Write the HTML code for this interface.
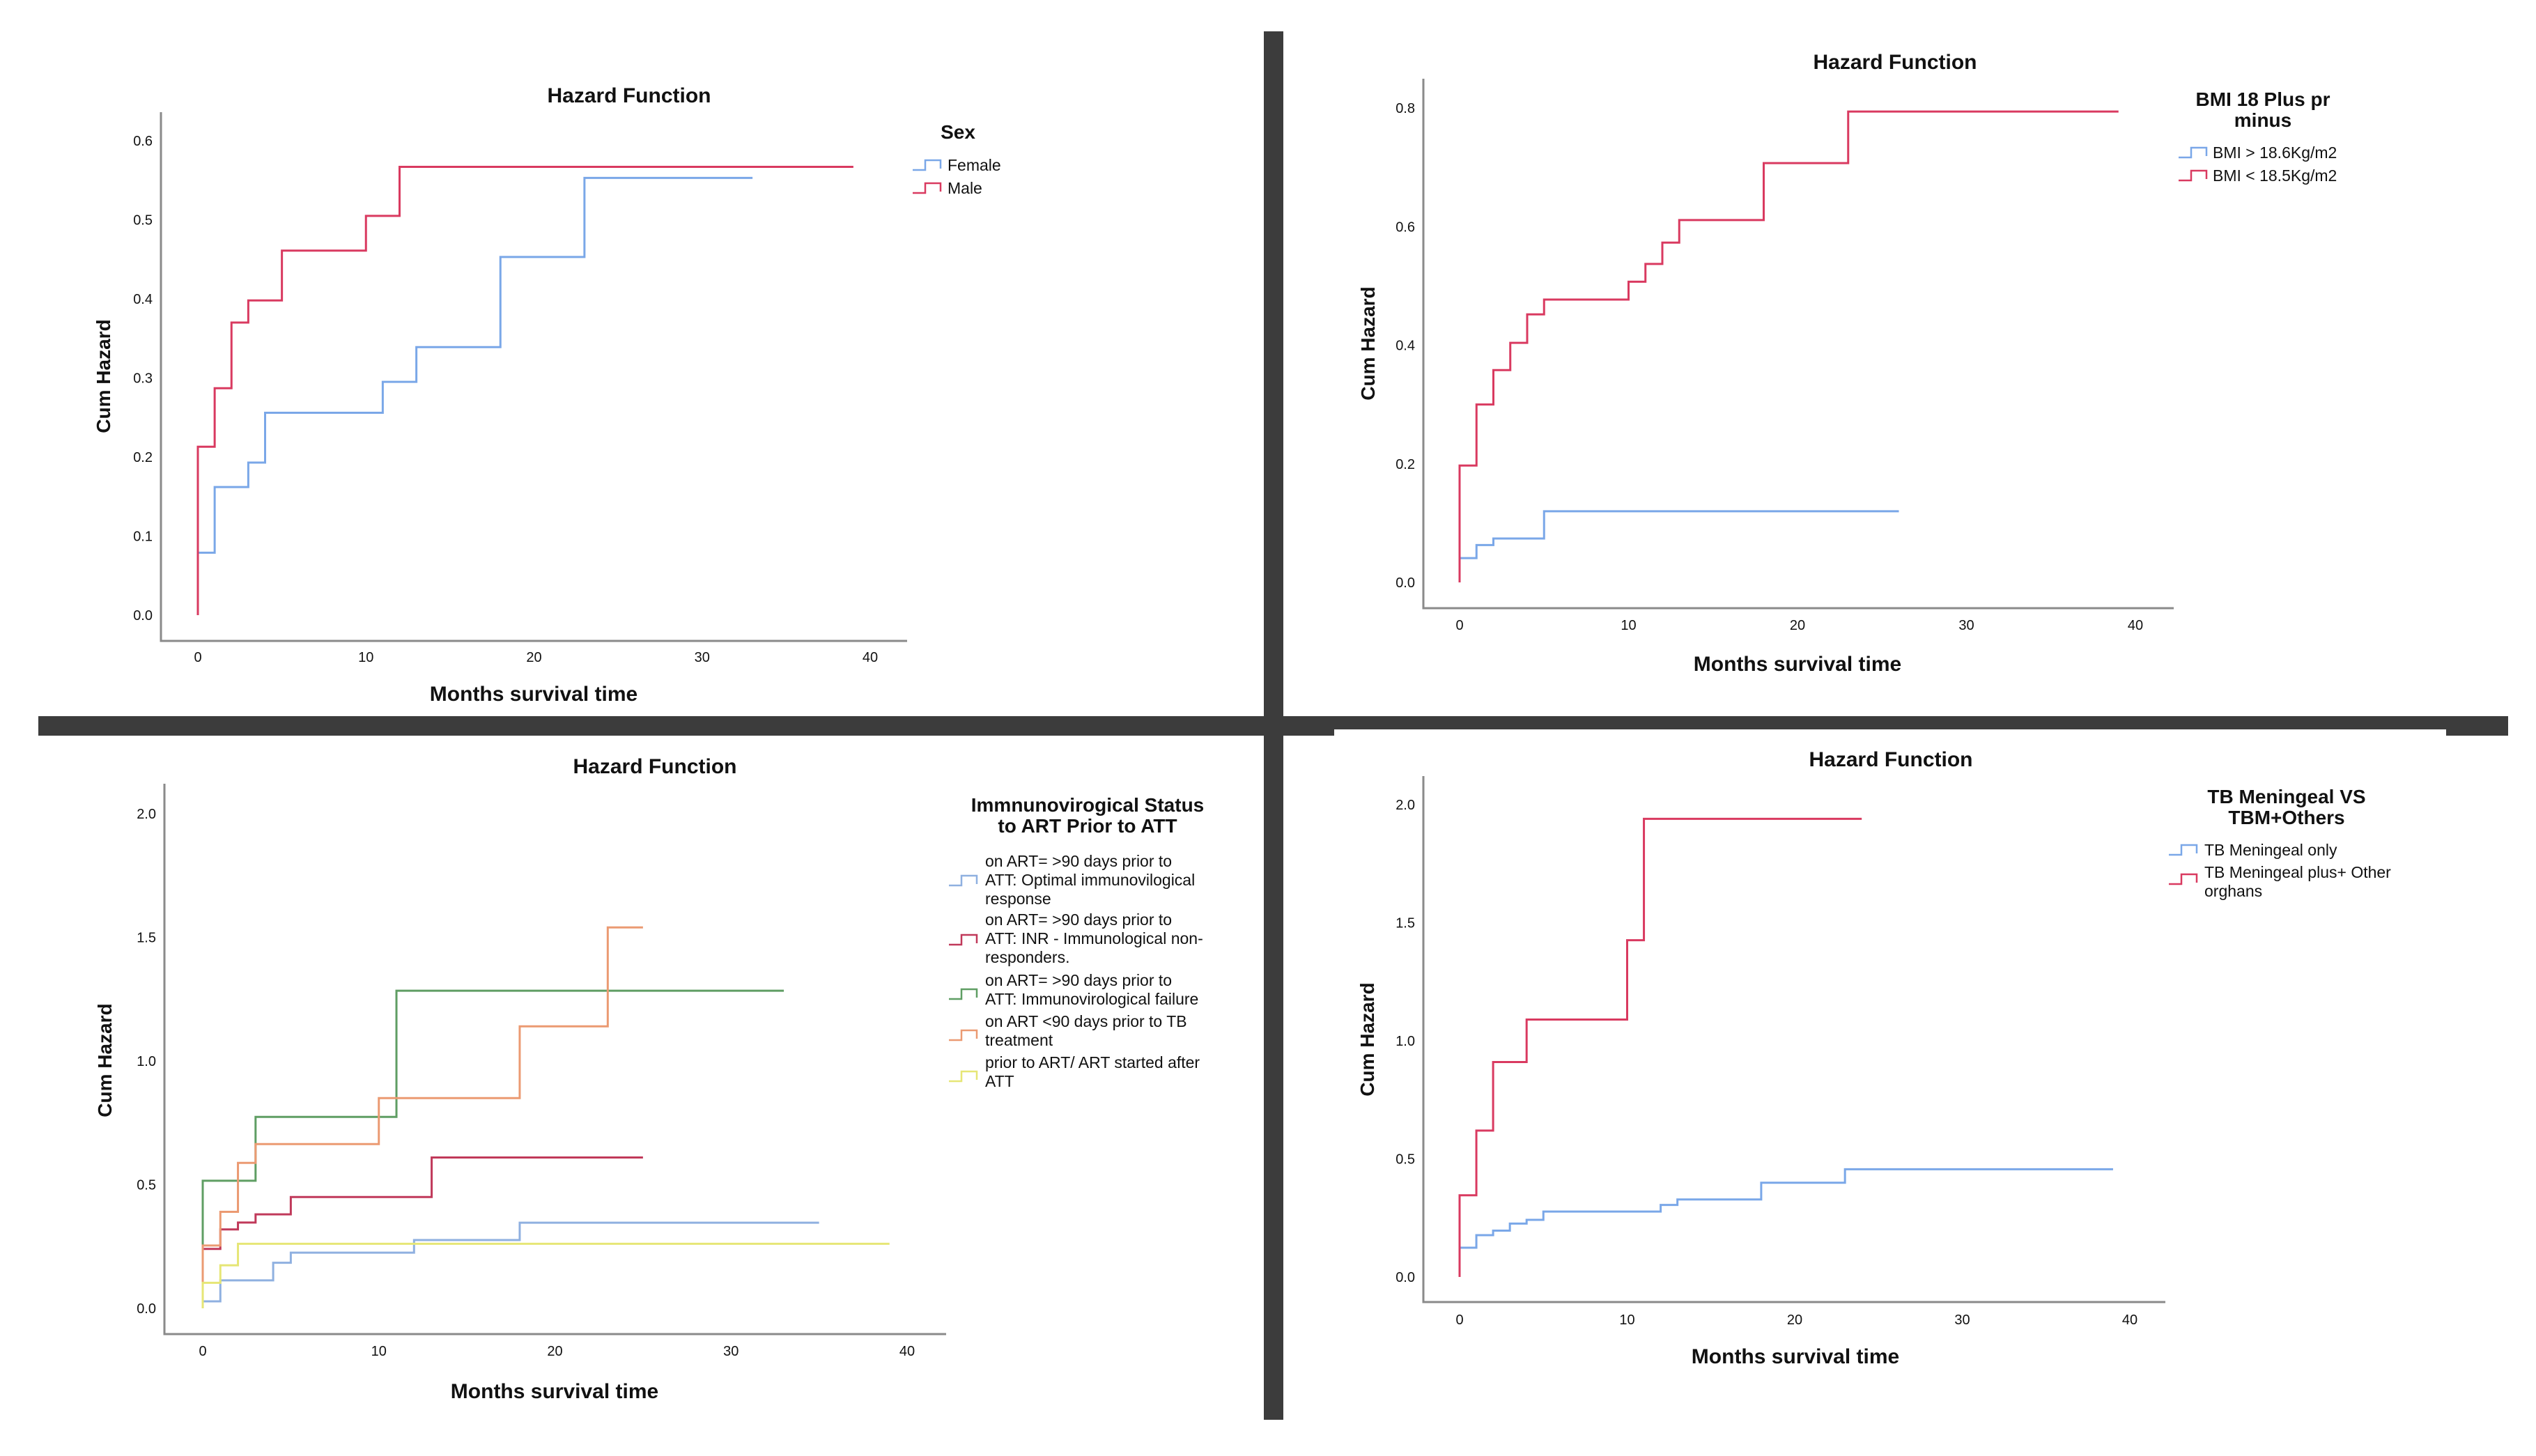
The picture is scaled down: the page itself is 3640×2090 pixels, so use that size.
<!DOCTYPE html>
<html><head><meta charset="utf-8"><style>
html,body{margin:0;padding:0;background:#fff;}
svg{display:block;}
text{font-family:"Liberation Sans Narrow","Liberation Sans",sans-serif;fill:#111;}
</style></head><body>
<svg id="root" width="3640" height="2090" viewBox="0 0 3640 2090" xmlns="http://www.w3.org/2000/svg">
<rect x="0" y="0" width="3640" height="2090" fill="#fff"/>
<rect x="1814" y="45" width="28" height="1993" fill="#3c3c3c"/>
<rect x="55" y="1028" width="1787" height="28" fill="#3c3c3c"/>
<rect x="1840" y="1028" width="1760" height="19" fill="#3c3c3c"/>
<rect x="1840" y="1047" width="75" height="9" fill="#3c3c3c"/>
<rect x="3511" y="1047" width="89" height="9" fill="#3c3c3c"/>
<g id="charts"></g>
</svg>
<script>
// Chart 1: Sex
const c1Ticks = [0, 0.1, 0.2, 0.3, 0.4, 0.5, 0.6];
const c1XTicks = [0, 10, 20, 30, 40];
const c1FemaleT = [0, 1, 3, 4, 11, 13, 18, 23, 33];
const c1FemaleV = [0.079, 0.162, 0.193, 0.256, 0.295, 0.339, 0.453, 0.553, 0.553];
const c1MaleT = [0, 1, 2, 3, 5, 10, 12, 39];
const c1MaleV = [0.213, 0.287, 0.370, 0.398, 0.461, 0.505, 0.567, 0.567];
// Chart 2: BMI
const c2Ticks = [0, 0.2, 0.4, 0.6, 0.8];
const c2XTicks = [0, 10, 20, 30, 40];
const c2HighT = [0, 1, 2, 5, 26];
const c2HighV = [0.041, 0.063, 0.074, 0.120, 0.120];
const c2LowT = [0, 1, 2, 3, 4, 5, 10, 11, 12, 13, 18, 23, 39];
const c2LowV = [0.197, 0.300, 0.358, 0.404, 0.452, 0.477, 0.507, 0.537, 0.573, 0.611, 0.707, 0.794, 0.794];
// Chart 3: Immunovirological status
const c3Ticks = [0, 0.5, 1.0, 1.5, 2.0];
const c3XTicks = [0, 10, 20, 30, 40];
const c3OptT = [0, 1, 4, 5, 12, 18, 35];
const c3OptV = [0.028, 0.113, 0.184, 0.225, 0.276, 0.346, 0.346];
const c3InrT = [0, 1, 2, 3, 5, 13, 25];
const c3InrV = [0.24, 0.319, 0.347, 0.38, 0.45, 0.61, 0.61];
const c3FailT = [0, 3, 11, 33];
const c3FailV = [0.516, 0.774, 1.284, 1.284];
const c3EarlyT = [0, 1, 2, 3, 10, 18, 23, 25];
const c3EarlyV = [0.254, 0.39, 0.588, 0.664, 0.85, 1.14, 1.54, 1.54];
const c3AfterT = [0, 1, 2, 39];
const c3AfterV = [0.103, 0.174, 0.261, 0.261];
// Chart 4: TB meningeal
const c4Ticks = [0, 0.5, 1.0, 1.5, 2.0];
const c4XTicks = [0, 10, 20, 30, 40];
const c4OnlyT = [0, 1, 2, 3, 4, 5, 12, 13, 18, 23, 39];
const c4OnlyV = [0.124, 0.177, 0.196, 0.226, 0.242, 0.277, 0.305, 0.328, 0.399, 0.456, 0.456];
const c4PlusT = [0, 1, 2, 4, 10, 11, 24];
const c4PlusV = [0.346, 0.62, 0.91, 1.09, 1.426, 1.94, 1.94];

const NS = "http://www.w3.org/2000/svg";
const root = document.getElementById('charts');
function mk(tag, attrs, parent, txt){
  const e = document.createElementNS(NS, tag);
  for (const k in attrs) e.setAttribute(k, attrs[k]);
  if (txt !== undefined) e.textContent = txt;
  parent.appendChild(e);
  return e;
}
function chart(cfg){
  const g = mk('g', {}, root);
  
  
  const xs = v => cfg.x0 + (v / 10) * cfg.xPer10;
  const ys = v => cfg.y0 - (v / cfg.ymax) * (cfg.y0 - cfg.yTop);
  const t = mk('text', {x: cfg.titleX, y: cfg.titleY, 'text-anchor': 'middle', 'font-size': 30, 'font-weight': 'bold'}, g, 'Hazard Function');
  
  
  const ax = mk('path', {d: `M${cfg.axL},${cfg.axT} V${cfg.axB} H${cfg.axR}`, fill: 'none', stroke: '#8a8a8a', 'stroke-width': 3}, g);
  
  
  cfg.yTicks.forEach(v => {
    const l = mk('text', {x: cfg.axL - 12, y: ys(v) + 7, 'text-anchor': 'end', 'font-size': 20, fill: '#333'}, g, v.toFixed(1));
    
    
  });
  cfg.xTicks.forEach(v => {
    const l = mk('text', {x: xs(v), y: cfg.xLabY, 'text-anchor': 'middle', 'font-size': 20, fill: '#333'}, g, String(v));
    
    
  });
  const xt = mk('text', {x: cfg.xTitleX, y: cfg.xTitleY, 'text-anchor': 'middle', 'font-size': 30, 'font-weight': 'bold'}, g, 'Months survival time');
  
  
  const yt = mk('text', {x: 0, y: 0, 'text-anchor': 'middle', 'font-size': 28, 'font-weight': 'bold', 'font-family': '"Liberation Sans",sans-serif', transform: `translate(${cfg.yTitleX},${cfg.yTitleY}) rotate(-90)`}, g, 'Cum Hazard');
  
  
  cfg.series.forEach(s => {
    let d = `M${xs(0)},${ys(0)}`;
    for (let i = 0; i < s.t.length; i++) {
      d += ` V${ys(s.v[i])}`;
      if (i + 1 < s.t.length) d += ` H${xs(s.t[i + 1])}`;
    }
    const p = mk('path', {d: d, fill: 'none', stroke: s.color, 'stroke-width': 3}, g);
    
    
  });
  cfg.legTitle.forEach((ln, i) => {
    const l = mk('text', {x: cfg.legTitleX, y: cfg.legTitleY + i * 30, 'text-anchor': 'middle', 'font-size': 28, 'font-weight': 'bold'}, g, ln);
    
    
  });
  cfg.series.forEach((s, si) => {
    const e = cfg.leg[si];
    const lg = mk('g', {}, g);
    
    
    const iy = e.iconY;
    mk('path', {d: `M${cfg.iconX},${iy + 6} H${cfg.iconX + 18} V${iy - 8} H${cfg.iconX + 40} V${iy + 4}`, fill: 'none', stroke: s.color, 'stroke-width': 2.5}, lg);
    e.lines.forEach((ln, li) => {
      mk('text', {x: cfg.textX, y: e.y + li * 27, 'font-size': 23, fill: '#333'}, lg, ln);
    });
  });
}
const BLUE = '#7aa7e8', RED = '#d93a60';
chart({name:'chart-sex', x0:284, xPer10:241.25, y0:883, yTop:202, ymax:0.6,
  axL:231, axT:161, axB:920, axR:1302, titleX:903, titleY:147, xLabY:950, xTitleX:766, xTitleY:1006, yTitleX:158, yTitleY:540,
  yTicks:c1Ticks, xTicks:c1XTicks,
  series:[{name:'female-line', t:c1FemaleT, v:c1FemaleV, color:BLUE},{name:'male-line', t:c1MaleT, v:c1MaleV, color:RED}],
  legTitle:['Sex'], legTitleX:1375, legTitleY:199, iconX:1310, textX:1360,
  leg:[{y:245, iconY:238, lines:['Female']},{y:278, iconY:271, lines:['Male']}]});
chart({name:'chart-bmi', x0:2095, xPer10:242.5, y0:836, yTop:155, ymax:0.8,
  axL:2043, axT:113, axB:873, axR:3120, titleX:2720, titleY:99, xLabY:904, xTitleX:2580, xTitleY:963, yTitleX:1973, yTitleY:493,
  yTicks:c2Ticks, xTicks:c2XTicks,
  series:[{name:'bmi-high-line', t:c2HighT, v:c2HighV, color:BLUE},{name:'bmi-low-line', t:c2LowT, v:c2LowV, color:RED}],
  legTitle:['BMI 18 Plus pr','minus'], legTitleX:3248, legTitleY:152, iconX:3127, textX:3176,
  leg:[{y:227, iconY:220, lines:['BMI > 18.6Kg/m2']},{y:260, iconY:253, lines:['BMI < 18.5Kg/m2']}]});
chart({name:'chart-immunovirological', x0:291, xPer10:252.75, y0:1878, yTop:1168, ymax:2.0,
  axL:236, axT:1125, axB:1915, axR:1358, titleX:940, titleY:1110, xLabY:1946, xTitleX:796, xTitleY:2007, yTitleX:160, yTitleY:1522,
  yTicks:c3Ticks, xTicks:c3XTicks,
  series:[{name:'optimal-response-line', t:c3OptT, v:c3OptV, color:'#8fb0e0'},
          {name:'inr-line', t:c3InrT, v:c3InrV, color:'#c0395a'},
          {name:'failure-line', t:c3FailT, v:c3FailV, color:'#5f9e63'},
          {name:'art-under-90-line', t:c3EarlyT, v:c3EarlyV, color:'#eb9a72'},
          {name:'art-after-att-line', t:c3AfterT, v:c3AfterV, color:'#e6e676'}],
  legTitle:['Immnunovirogical Status','to ART Prior to ATT'], legTitleX:1561, legTitleY:1165, iconX:1362, textX:1414,
  leg:[{y:1244, iconY:1265, lines:['on ART= >90 days prior to','ATT: Optimal immunovilogical','response']},
       {y:1328, iconY:1350, lines:['on ART= >90 days prior to','ATT: INR - Immunological non-','responders.']},
       {y:1415, iconY:1428, lines:['on ART= >90 days prior to','ATT: Immunovirological failure']},
       {y:1474, iconY:1487, lines:['on ART <90 days prior to TB','treatment']},
       {y:1533, iconY:1546, lines:['prior to ART/ ART started after','ATT']}]});
chart({name:'chart-tb-meningeal', x0:2095, xPer10:240.5, y0:1833, yTop:1155, ymax:2.0,
  axL:2043, axT:1114, axB:1869, axR:3108, titleX:2714, titleY:1100, xLabY:1901, xTitleX:2577, xTitleY:1957, yTitleX:1972, yTitleY:1492,
  yTicks:c4Ticks, xTicks:c4XTicks,
  series:[{name:'meningeal-only-line', t:c4OnlyT, v:c4OnlyV, color:BLUE},{name:'meningeal-plus-line', t:c4PlusT, v:c4PlusV, color:RED}],
  legTitle:['TB Meningeal VS','TBM+Others'], legTitleX:3282, legTitleY:1153, iconX:3113, textX:3164,
  leg:[{y:1228, iconY:1221, lines:['TB Meningeal only']},{y:1260, iconY:1263, lines:['TB Meningeal plus+ Other','orghans']}]});
</script>
</body></html>
